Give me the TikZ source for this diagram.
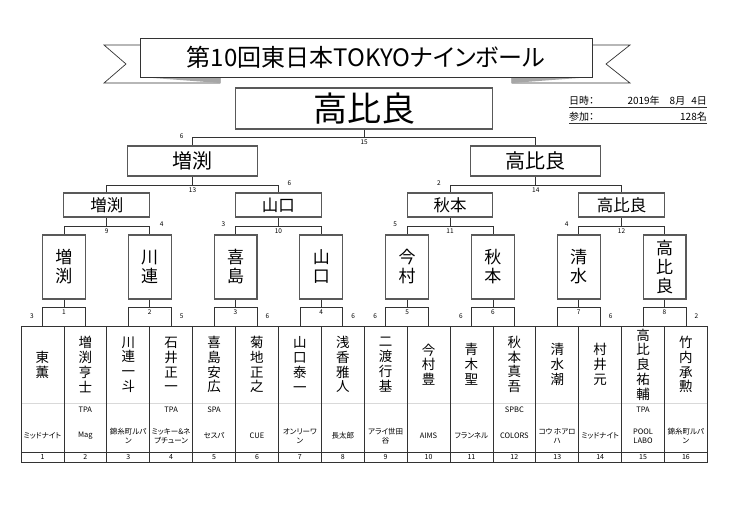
\documentclass[tikz,border=0pt]{standalone}
\usepackage{fontspec}
\setmainfont{Noto Sans CJK JP}[RawFeature=+palt]
\def\cw{42.9}
\begin{document}
\begin{tikzpicture}[
  x=1pt, y=-1pt,
  wire/.style={draw=black!80, line width=0.7pt},
  box/.style={draw=black!65, line width=1.1pt, fill=white, inner sep=0pt, align=center},
  champbox/.style={box, minimum width=257, minimum height=41, font=\fontsize{34}{34}\selectfont},
  semibox/.style={box, minimum width=130, minimum height=30, font=\fontsize{20}{20}\selectfont},
  quarterbox/.style={box, minimum width=85.8, minimum height=24, font=\fontsize{16.5}{16.5}\selectfont},
  tallbox/.style={box, minimum width=42.9, minimum height=64, font=\fontsize{17}{19}\selectfont},
  namecell/.style={inner sep=0pt, minimum width=42.9, minimum height=77, align=center, font=\fontsize{13.5}{14.8}\selectfont},
  small/.style={inner sep=0pt, align=center, font=\fontsize{7.5}{9}\selectfont},
  score/.style={inner sep=0pt, font=\fontsize{6.5}{7}\selectfont},
  info/.style={inner sep=0pt, font=\fontsize{10}{10}\selectfont}
]
\useasboundingbox (0,0) rectangle (740,524);

% ribbon
\draw[wire, fill=white] (104,45) -- (220,45) -- (220,83) -- (104,83) -- (126,64) -- cycle;
\draw[wire, fill=white] (630,45) -- (512,45) -- (512,83) -- (630,83) -- (606,64) -- cycle;
\fill[black!35] (140,77) -- (220,77) -- (220,83) -- cycle;
\fill[black!35] (592,77) -- (512,77) -- (512,83) -- cycle;
\node[box, line width=0.8pt, draw=black!80, minimum width=452, minimum height=39,
  font=\fontsize{24}{24}\selectfont] (title) at (366,57.5) {第10回東日本TOKYOナインボール};

% date and entries
\node[info, anchor=west] (dl) at (569,101) {日時：};
\node[info, anchor=east] (dr) at (707,101) {2019年\hspace{10pt}8月\hspace{6pt}4日};
\node[info, anchor=west] (el) at (569,117) {参加：};
\node[info, anchor=east] (er) at (707,117) {128名};
\draw[wire] (569,107.5) -- (707,107.5);
\draw[wire] (569,123.5) -- (707,123.5);

% table
\foreach \nm [count=\i] in {東\\薫, 増\\渕\\亨\\士, 川\\連\\一\\斗, 石\\井\\正\\一,
  喜\\島\\安\\広, 菊\\地\\正\\之, 山\\口\\泰\\一, 浅\\香\\雅\\人, 二\\渡\\行\\基,
  今\\村\\豊, 青\\木\\聖, 秋\\本\\真\\吾, 清\\水\\潮, 村\\井\\元,
  高\\比\\良\\祐\\輔, 竹\\内\\承\\勲}
  \node[namecell] (n\i) at ({21+\cw*(\i-0.5)},364.5) {\nm};
\foreach \cl [count=\i] in {ミッドナイト, Mag, 錦糸町ルパ\\ン, ミッキー\&ネ\\プチューン,
  セスパ, CUE, オンリーワ\\ン, 長太郎, アライ世田\\谷, AIMS, フランネル, COLORS,
  コウ ホアロ\\ハ, ミッドナイト, POOL\\LABO, 錦糸町ルパ\\ン} {
  \node[small] (c\i) at ({21+\cw*(\i-0.5)},436) {\cl};
  \node[score, font=\fontsize{7}{7}\selectfont] (k\i) at ({21+\cw*(\i-0.5)},457) {\i};
}
\foreach \i/\o in {2/TPA, 4/TPA, 5/SPA, 12/SPBC, 15/TPA}
  \node[small] (o\i) at ({21+\cw*(\i-0.5)},410) {\o};
\draw[black!15, line width=0.7pt] (21,403) -- ({21+16*\cw},403);
\draw[wire] (21,326) rectangle ({21+16*\cw},462);
\draw[wire] (21,452) -- ({21+16*\cw},452);
\foreach \i in {1,...,15}
  \draw[wire] ({21+\i*\cw},326) -- ({21+\i*\cw},462);

% winners
\foreach \nm [count=\i] in {{増\\渕}, {川\\連}, {喜\\島}, {山\\口}, {今\\村}, {秋\\本}, {清\\水}, {高\\比\\良}}
  \node[tallbox] (w\i) at ({21+\cw*(2*\i-1)},267) {\nm};
\foreach \nm [count=\i] in {増渕, 山口, 秋本, 高比良}
  \node[quarterbox] (q\i) at ({21+\cw*(4*\i-2)},205) {\nm};
\node[semibox] (s1) at ({21+\cw*4},161) {増渕};
\node[semibox] (s2) at ({21+\cw*12},161) {高比良};
\node[champbox] (champ) at ({21+\cw*8},108.5) {高比良};

% brackets
\foreach \i in {1,...,8} {
  \pgfmathtruncatemacro\a{2*\i-1}
  \pgfmathtruncatemacro\b{2*\i}
  \draw[wire] (w\i.south) -- ++(0,8) coordinate (j\i) node[score, below=2pt] {\i};
  \draw[wire] (n\a.north) |- (j\i) -| (n\b.north);
}
\foreach \q in {1,...,4} {
  \pgfmathtruncatemacro\a{2*\q-1}
  \pgfmathtruncatemacro\b{2*\q}
  \pgfmathtruncatemacro\m{8+\q}
  \draw[wire] (q\q.south) -- ++(0,9) coordinate (jq\q) node[score, below=2pt] {\m};
  \draw[wire] (w\a.north) |- (jq\q) -| (w\b.north);
}
\foreach \s in {1,2} {
  \pgfmathtruncatemacro\a{2*\s-1}
  \pgfmathtruncatemacro\b{2*\s}
  \pgfmathtruncatemacro\m{12+\s}
  \draw[wire] (s\s.south) -- ++(0,9) coordinate (js\s) node[score, below=2pt] {\m};
  \draw[wire] (q\a.north) |- (js\s) -| (q\b.north);
}
\draw[wire] (champ.south) -- ++(0,8) coordinate (jf) node[score, below=2pt] {15};
\draw[wire] (s1.north) |- (jf) -| (s2.north);

% scores of the losers
\foreach \m/\d/\v in {1/-1/3, 2/1/5, 3/1/6, 4/1/6, 5/-1/6, 6/-1/6, 7/1/6, 8/1/2}
  \node[score] (r\m) at ({21+\cw*(2*\m-1)+\d*(\cw/2+10.5)},316) {\v};
\foreach \q/\d/\v in {1/1/4, 2/-1/3, 3/-1/5, 4/-1/4}
  \node[score] (rq\q) at ({21+\cw*(4*\q-2)+\d*(\cw+12)},224.5) {\v};
\node[score] (rs1) at ({21+\cw*4+\cw*2+11},183.5) {6};
\node[score] (rs2) at ({21+\cw*12-\cw*2-11},183.5) {2};
\node[score] (rf) at ({21+\cw*4-11},136) {6};
\end{tikzpicture}
\end{document}
